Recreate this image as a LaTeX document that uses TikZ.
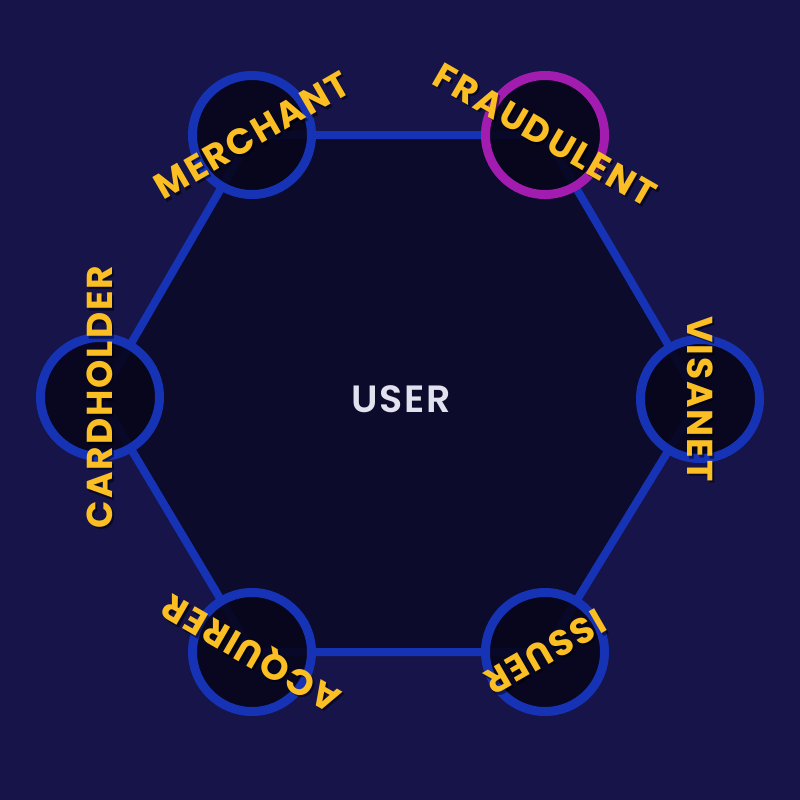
\documentclass[tikz,border=0pt]{standalone}
\usepackage{fontspec}
\setmainfont{Poppins}
\newfontfamily\lblfont[LetterSpace=5.5]{Poppins Bold}
\newfontfamily\userfont[LetterSpace=4]{Poppins SemiBold}
\definecolor{bgc}{HTML}{161449}
\definecolor{hexfill}{HTML}{0C0B2B}
\definecolor{cfill}{HTML}{07061C}
\definecolor{edgeblue}{HTML}{1733B5}
\definecolor{fraudpurple}{HTML}{A21CAF}
\definecolor{lblyellow}{HTML}{FBBF24}
\definecolor{usercol}{HTML}{E2E2EE}
\begin{document}
\begin{tikzpicture}[x=1pt,y=-1pt,
  vert/.style={circle,draw=edgeblue,line width=9pt,fill=cfill,fill opacity=0.92,minimum size=119pt,inner sep=0pt},
  hexedge/.style={draw=edgeblue,line width=8pt},
  lbl/.style={text=lblyellow,font=\lblfont\fontsize{36}{36}\selectfont,inner sep=0pt},
  shd/.style={text=black,text opacity=0.5,font=\lblfont\fontsize{36}{36}\selectfont,inner sep=0pt}]
\useasboundingbox (0,0) rectangle (800,800);
\fill[bgc] (0,0) rectangle (800,800);
\coordinate (m) at (252,135);
\coordinate (f) at (545,135);
\coordinate (v) at (700,399);
\coordinate (i) at (545,652);
\coordinate (a) at (252,652);
\coordinate (c) at (100,397);
\fill[hexfill] (m) -- (f) -- (v) -- (i) -- (a) -- (c) -- cycle;
\draw[hexedge] (m) -- (f) -- (v) -- (i) -- (a) -- (c) -- cycle;
\node[vert] (nm) at (m) {};
\node[vert,draw=fraudpurple] (nf) at (f) {};
\node[vert] (nv) at (v) {};
\node[vert] (ni) at (i) {};
\node[vert] (na) at (a) {};
\node[vert] (nc) at (c) {};
\node[text=usercol,font=\userfont\fontsize{38}{38}\selectfont] (user) at (401,399) {USER};
\foreach \p/\r/\t in {m/30/MERCHANT,f/-30/FRAUDULENT,v/-90/VISANET,i/-150/ISSUER,a/150/ACQUIRER,c/90/CARDHOLDER}{
  \node[shd,rotate=\r] at ([shift={(2,2.5)}]\p) {\t};
  \node[lbl,rotate=\r] (l\p) at (\p) {\t};
}
\end{tikzpicture}
\end{document}
